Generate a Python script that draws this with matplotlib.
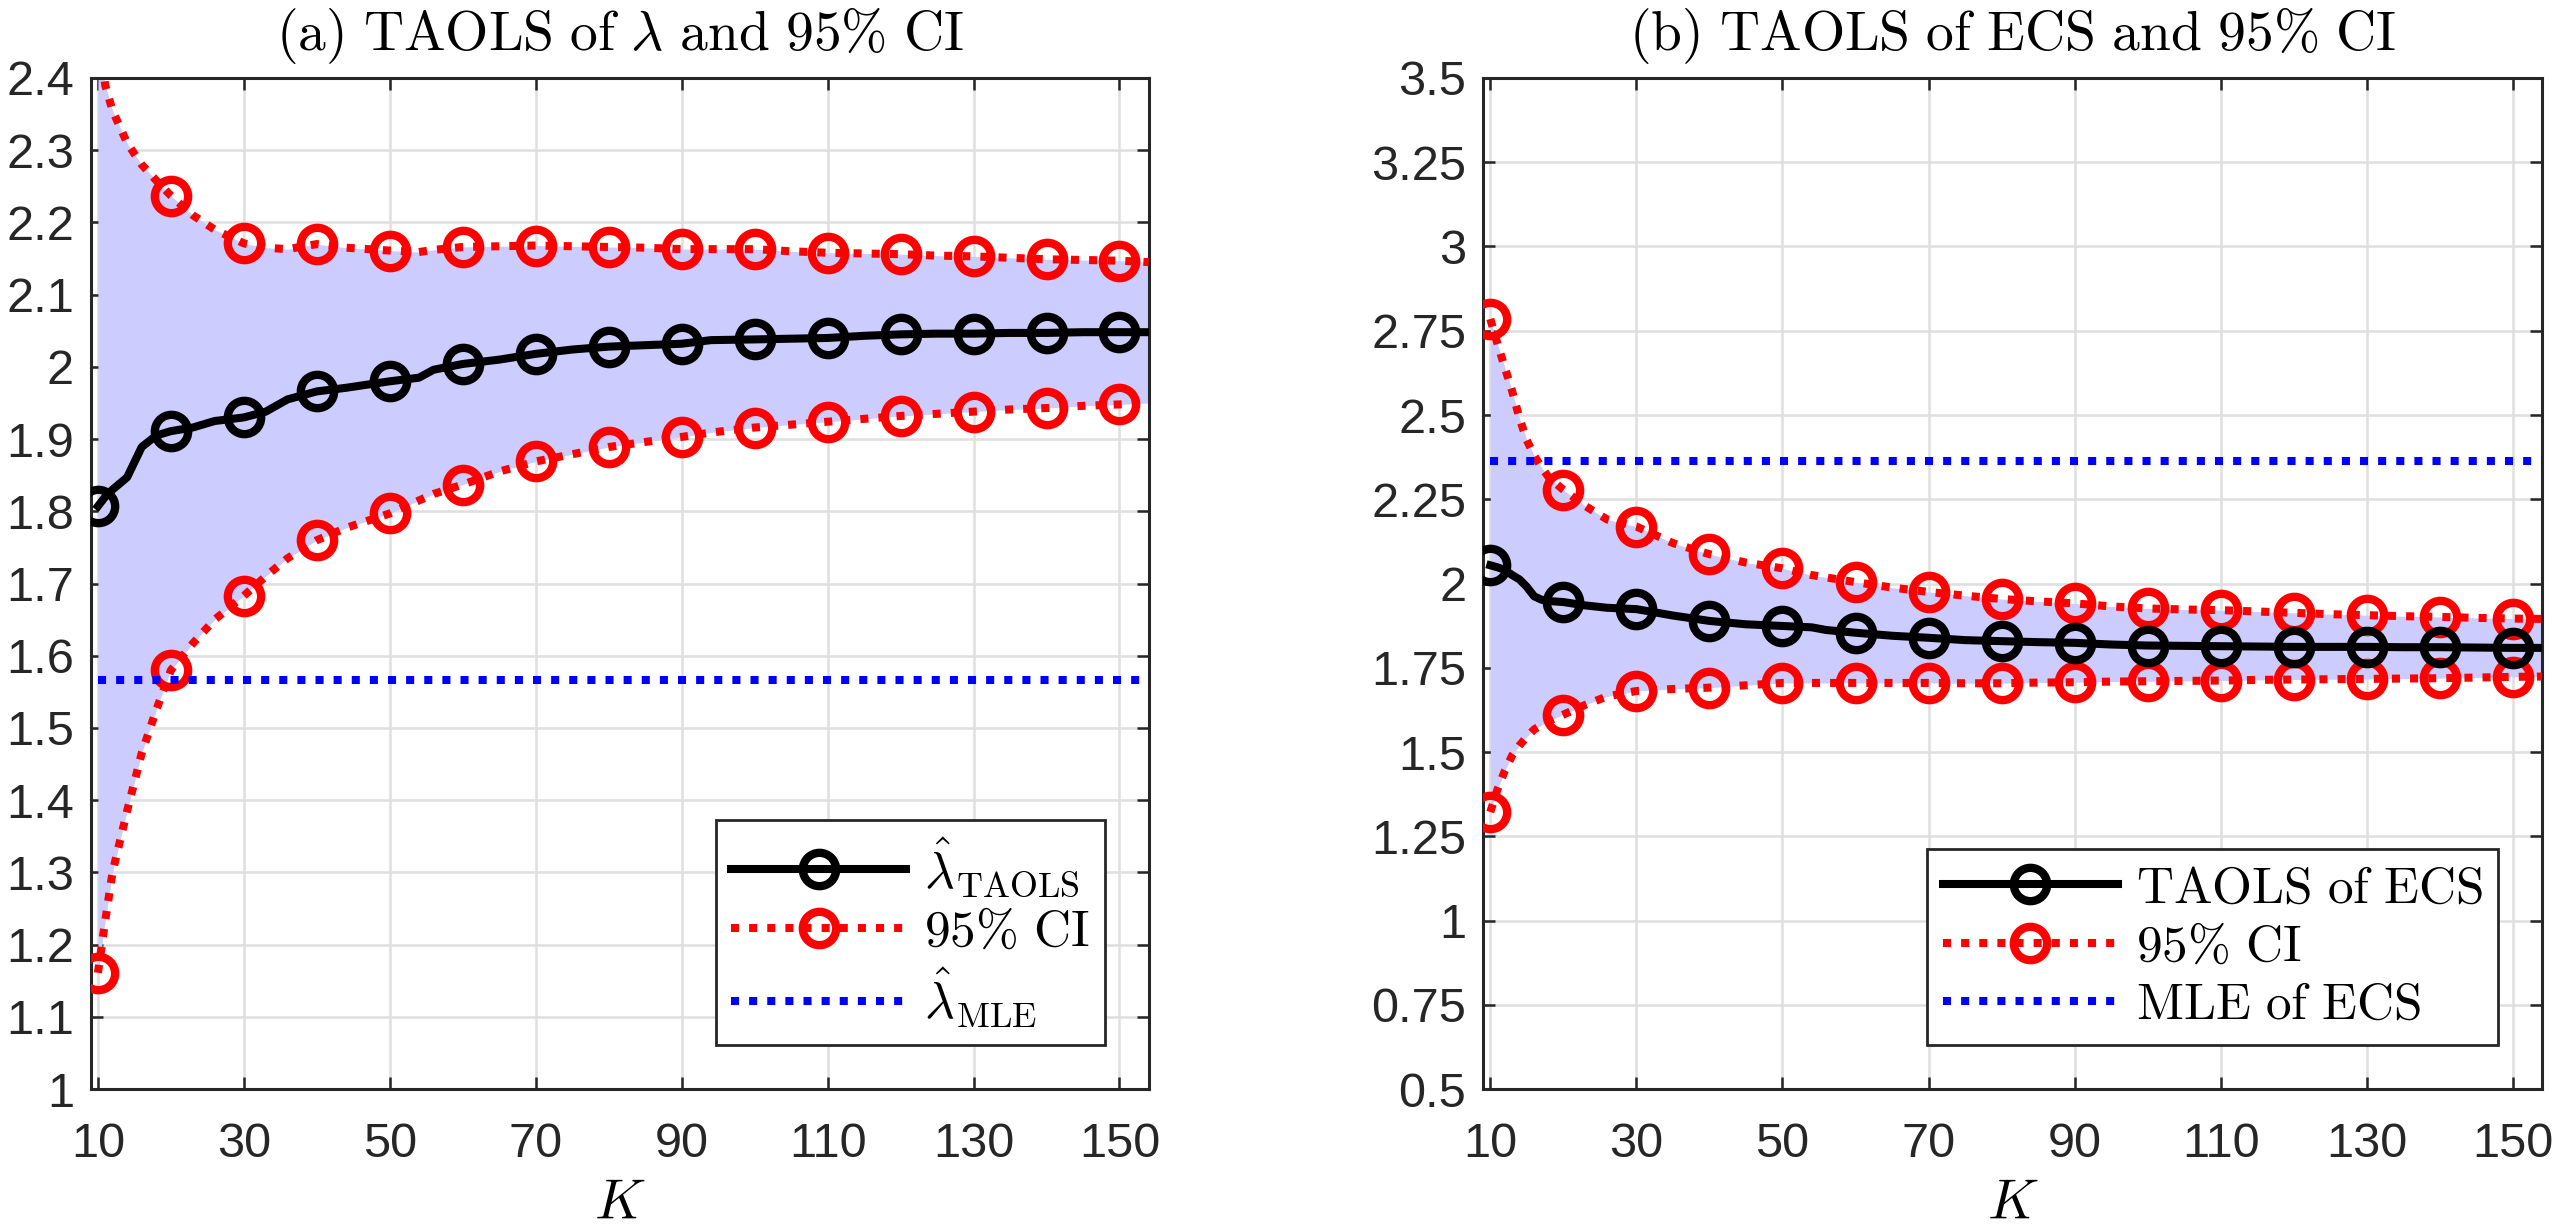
import numpy as np
import matplotlib
matplotlib.use("Agg")
import matplotlib.pyplot as plt

plt.rcParams['mathtext.fontset'] = 'cm'
plt.rcParams['font.family'] = ['Liberation Sans', 'DejaVu Sans']

# ---- panel (a): lambda ----
K_a = [10, 11, 12, 14, 16, 18, 20, 23, 26, 30, 33, 36, 40, 44, 50, 54, 56, 60, 65,
       70, 75, 80, 85, 90, 94, 100, 105, 110, 115, 120, 125, 130, 135, 140, 145, 150, 154]
lam_taols = [1.807, 1.82, 1.83, 1.847, 1.889, 1.905, 1.911, 1.916, 1.925, 1.930, 1.938,
             1.955, 1.966, 1.971, 1.980, 1.985, 1.996, 2.004, 2.010, 2.018, 2.024, 2.028,
             2.030, 2.032, 2.037, 2.038, 2.039, 2.040, 2.043, 2.045, 2.046, 2.046, 2.047,
             2.047, 2.048, 2.048, 2.048]
lam_upper = [2.47, 2.39, 2.355, 2.31, 2.28, 2.258, 2.237, 2.21, 2.19, 2.171, 2.165, 2.163,
             2.170, 2.165, 2.161, 2.159, 2.162, 2.166, 2.167, 2.168, 2.167, 2.166, 2.165,
             2.163, 2.163, 2.163, 2.160, 2.158, 2.157, 2.156, 2.154, 2.153, 2.151, 2.149,
             2.148, 2.147, 2.145]
lam_lower = [1.161, 1.233, 1.30, 1.385, 1.465, 1.525, 1.580, 1.617, 1.650, 1.683, 1.71,
             1.735, 1.760, 1.777, 1.797, 1.815, 1.824, 1.837, 1.855, 1.869, 1.879, 1.889,
             1.896, 1.903, 1.909, 1.916, 1.920, 1.924, 1.928, 1.932, 1.935, 1.938, 1.941,
             1.943, 1.946, 1.948, 1.950]
lam_mle = 1.567
yticks_a = [1, 1.1, 1.2, 1.3, 1.4, 1.5, 1.6, 1.7, 1.8, 1.9, 2, 2.1, 2.2, 2.3, 2.4]
ylabels_a = ['1', '1.1', '1.2', '1.3', '1.4', '1.5', '1.6', '1.7', '1.8', '1.9', '2',
             '2.1', '2.2', '2.3', '2.4']

# ---- panel (b): ECS ----
K_b = [10, 11, 12, 13, 14, 15, 16, 17, 18, 20, 23, 26, 30, 35, 40, 45, 50, 54, 56, 60,
       65, 70, 75, 80, 85, 90, 95, 100, 105, 110, 115, 120, 125, 130, 135, 140, 145, 150, 154]
ecs_taols = [2.054, 2.048, 2.04, 2.025, 2.012, 1.99, 1.962, 1.952, 1.948, 1.945, 1.935,
             1.928, 1.924, 1.905, 1.889, 1.879, 1.874, 1.870, 1.862, 1.854, 1.845, 1.839,
             1.832, 1.829, 1.826, 1.824, 1.819, 1.816, 1.815, 1.814, 1.813, 1.812, 1.812,
             1.812, 1.811, 1.811, 1.810, 1.809, 1.809]
ecs_upper = [2.785, 2.71, 2.64, 2.57, 2.49, 2.425, 2.38, 2.345, 2.315, 2.278, 2.23, 2.19,
             2.169, 2.12, 2.087, 2.062, 2.045, 2.025, 2.018, 2.004, 1.988, 1.975, 1.964,
             1.954, 1.947, 1.941, 1.932, 1.926, 1.923, 1.921, 1.917, 1.913, 1.909, 1.906,
             1.903, 1.901, 1.898, 1.896, 1.895]
ecs_lower = [1.322, 1.39, 1.445, 1.49, 1.52, 1.545, 1.567, 1.58, 1.592, 1.611, 1.64, 1.665,
             1.681, 1.687, 1.691, 1.698, 1.705, 1.705, 1.705, 1.705, 1.705, 1.705, 1.704,
             1.704, 1.706, 1.707, 1.709, 1.710, 1.711, 1.712, 1.714, 1.715, 1.716, 1.717,
             1.718, 1.719, 1.721, 1.723, 1.724]
ecs_mle = 2.364
yticks_b = [0.5, 0.75, 1, 1.25, 1.5, 1.75, 2, 2.25, 2.5, 2.75, 3, 3.25, 3.5]
ylabels_b = ['0.5', '0.75', '1', '1.25', '1.5', '1.75', '2', '2.25', '2.5', '2.75', '3',
             '3.25', '3.5']

xticks = [10, 30, 50, 70, 90, 110, 130, 150]

DOT = (0, (1, 1.25))
AXC = '#262626'


def draw_panel(ax, K, est, up, lo, mle, yt, yl, ylim, title, labels):
    K = np.array(K)
    mk = (K % 10 == 0)
    ax.fill_between(K, lo, up, color='#ccccff', lw=0, zorder=2)
    ax.plot(K, est, color='k', lw=5.8, marker='o', ms=24, mew=6, mfc='none',
            markevery=list(mk), zorder=4, label=labels[0])
    ax.plot(K, up, color='r', lw=5.8, ls=DOT, dash_capstyle='butt', marker='o', ms=24,
            mew=6, mfc='none', markevery=list(mk), zorder=3, label=labels[1])
    ax.plot(K, lo, color='r', lw=5.8, ls=DOT, dash_capstyle='butt', marker='o', ms=24,
            mew=6, mfc='none', markevery=list(mk), zorder=3)
    ax.plot([K[0], K[-1]], [mle, mle], color='b', lw=5.8, ls=DOT, dash_capstyle='butt',
            zorder=3, label=labels[2])

    ax.set_xlim(9, 154)
    ax.set_ylim(*ylim)
    ax.set_xticks(xticks)
    ax.set_yticks(yt, yl)
    ax.grid(True, color='#dfdfdf', lw=1.8, zorder=0)
    ax.set_axisbelow(True)
    for s in ax.spines.values():
        s.set_color(AXC)
        s.set_linewidth(2.2)
    ax.tick_params(direction='in', length=8.5, width=1.8, colors=AXC, labelsize=35,
                   top=True, right=True)
    ax.tick_params(axis='x', pad=24)
    ax.tick_params(axis='y', pad=12)
    ax.set_xlabel(r'$K$', fontsize=40, labelpad=8)
    ax.set_title(title, fontsize=40, pad=20)
    leg = ax.legend(loc='lower right', fontsize=37, handlelength=3.4, handletextpad=0.35,
                    borderpad=0.3, labelspacing=0.18, borderaxespad=0.85, fancybox=False,
                    framealpha=1, numpoints=1)
    leg.get_frame().set_edgecolor(AXC)
    leg.get_frame().set_linewidth(2.0)


fig = plt.figure(figsize=(25.6, 12.3), dpi=100)
ax1 = fig.add_axes([0.0354, 0.1146, 0.4133, 0.822])
ax2 = fig.add_axes([0.5793, 0.1146, 0.4137, 0.822])

draw_panel(ax1, K_a, lam_taols, lam_upper, lam_lower, lam_mle, yticks_a, ylabels_a, (1, 2.4),
           r'$\mathrm{(a)\ TAOLS\ of\ }\lambda\mathrm{\ and\ 95\%\ CI}$',
           [r'$\hat{\lambda}_{\mathrm{TAOLS}}$', r'$\mathrm{95\%\ CI}$',
            r'$\hat{\lambda}_{\mathrm{MLE}}$'])
draw_panel(ax2, K_b, ecs_taols, ecs_upper, ecs_lower, ecs_mle, yticks_b, ylabels_b, (0.5, 3.5),
           r'$\mathrm{(b)\ TAOLS\ of\ ECS\ and\ 95\%\ CI}$',
           [r'$\mathrm{TAOLS\ of\ ECS}$', r'$\mathrm{95\%\ CI}$', r'$\mathrm{MLE\ of\ ECS}$'])

fig.savefig('out.png', dpi=100)
